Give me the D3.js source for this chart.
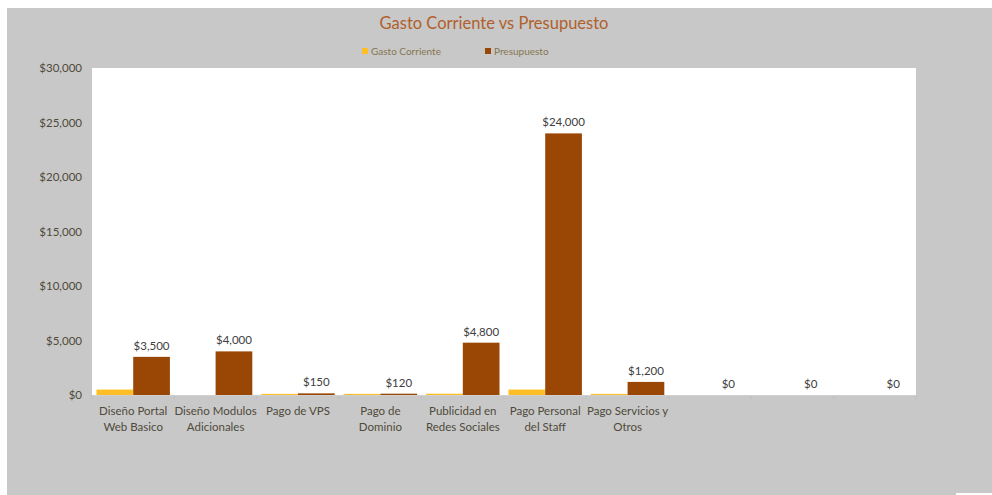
<!DOCTYPE html>
<html>
<head>
<meta charset="utf-8">
<script src="https://cdn.jsdelivr.net/npm/d3@7"></script>
<style>
  html, body { margin: 0; padding: 0; background: #ffffff; }
  svg { display: block; font-family: Lato, "Open Sans", sans-serif; }
</style>
</head>
<body>
<svg id="chart" width="992" height="495"></svg>
<script>
// Categories (each label split into its two display lines; trailing blanks are empty slots)
const categories = [
  ["Diseño Portal", "Web Basico"],
  ["Diseño Modulos", "Adicionales"],
  ["Pago de VPS", ""],
  ["Pago de", "Dominio"],
  ["Publicidad en", "Redes Sociales"],
  ["Pago Personal", "del Staff"],
  ["Pago Servicios y", "Otros"],
  ["", ""],
  ["", ""],
  ["", ""]
];
const seriesNames = ["Gasto Corriente", "Presupuesto"];
const gastoCorriente = [500, 0, 100, 100, 120, 500, 100, 0, 0, 0];
const presupuesto = [3500, 4000, 150, 120, 4800, 24000, 1200, 0, 0, 0];
const yTicks = [0, 5000, 10000, 15000, 20000, 25000, 30000];

const colors = { "Gasto Corriente": "#FFBE25", "Presupuesto": "#9A4706" };

const svg = d3.select("#chart");
const W = 992, H = 495;
const plot = { left: 92, right: 916, top: 68, bottom: 395 };

// Outer gray chart area
svg.append("rect").attr("x", 7).attr("y", 8).attr("width", W - 7).attr("height", H - 8)
  .attr("fill", "#C8C8C8");
// Small white notch at the lower right
svg.append("rect").attr("x", 956).attr("y", 493).attr("width", 36).attr("height", 2)
  .attr("fill", "#ffffff");

// White plot area
svg.append("rect")
  .attr("x", plot.left).attr("y", plot.top)
  .attr("width", plot.right - plot.left).attr("height", plot.bottom - plot.top)
  .attr("fill", "#ffffff");

const x0 = d3.scaleBand().domain(d3.range(categories.length))
  .range([plot.left, plot.right]).padding(0);
const x1 = d3.scaleBand().domain(seriesNames)
  .range([4.5, x0.bandwidth() - 4.5]).padding(0);
const y = d3.scaleLinear().domain([0, 30000]).range([plot.bottom, plot.top]);

// Title
svg.append("text").attr("x", 494).attr("y", 29)
  .attr("text-anchor", "middle").attr("font-size", 16.5)
  .attr("fill", "#B0602C").text("Gasto Corriente vs Presupuesto");

// Legend
const legendItems = [
  { name: "Gasto Corriente", x: 362 },
  { name: "Presupuesto", x: 485 }
];
const lg = svg.append("g");
legendItems.forEach(it => {
  lg.append("rect").attr("x", it.x).attr("y", 48).attr("width", 6).attr("height", 6)
    .attr("fill", colors[it.name]);
  lg.append("text").attr("x", it.x + 9).attr("y", 55)
    .attr("font-size", 10).attr("fill", "#857650").text(it.name);
});

// Y axis labels
const yAxis = d3.axisLeft(y).tickValues(yTicks).tickSize(0).tickPadding(10)
  .tickFormat(d => "$" + d3.format(",")(d));
const yg = svg.append("g").attr("transform", `translate(${plot.left},0)`).call(yAxis);
yg.select(".domain").remove();
yg.selectAll("text").attr("font-size", 11.5).attr("fill", "#4F4A3A")
  .attr("font-family", "Lato, 'Open Sans', sans-serif");

// Category separators below the axis line
svg.append("g").selectAll("line")
  .data(d3.range(categories.length + 1))
  .join("line")
  .attr("x1", i => plot.left + i * x0.step())
  .attr("x2", i => plot.left + i * x0.step())
  .attr("y1", plot.bottom).attr("y2", plot.bottom + 4)
  .attr("stroke", "#BDBDBD").attr("stroke-width", 1);
svg.append("line").attr("x1", plot.left).attr("x2", plot.right)
  .attr("y1", plot.bottom + 0.5).attr("y2", plot.bottom + 0.5)
  .attr("stroke", "#D0D0D0").attr("stroke-width", 1);

// Bars
const rows = categories.map((c, i) => ({
  i,
  values: [
    { key: "Gasto Corriente", value: gastoCorriente[i] },
    { key: "Presupuesto", value: presupuesto[i] }
  ]
}));
const groups = svg.append("g").selectAll("g").data(rows).join("g")
  .attr("transform", d => `translate(${x0(d.i)},0)`);
groups.selectAll("rect").data(d => d.values).join("rect")
  .attr("x", d => x1(d.key))
  .attr("width", x1.bandwidth())
  .attr("y", d => y(d.value))
  .attr("height", d => y(0) - y(d.value))
  .attr("fill", d => colors[d.key]);

// Data labels for the budget series
groups.append("text")
  .attr("x", d => x1("Presupuesto") + x1.bandwidth() / 2)
  .attr("y", d => y(d.values[1].value) - 7)
  .attr("text-anchor", "middle").attr("font-size", 11.5).attr("fill", "#404040")
  .text(d => "$" + d3.format(",")(d.values[1].value));

// Category labels
const xl = svg.append("g").selectAll("text").data(categories).join("text")
  .attr("x", (d, i) => x0(i) + x0.bandwidth() / 2)
  .attr("text-anchor", "middle").attr("font-size", 11.5).attr("fill", "#4F4A3A");
xl.append("tspan").attr("x", (d, i) => x0(i) + x0.bandwidth() / 2).attr("y", 415).text(d => d[0]);
xl.append("tspan").attr("x", (d, i) => x0(i) + x0.bandwidth() / 2).attr("y", 431).text(d => d[1]);
</script>
</body>
</html>
